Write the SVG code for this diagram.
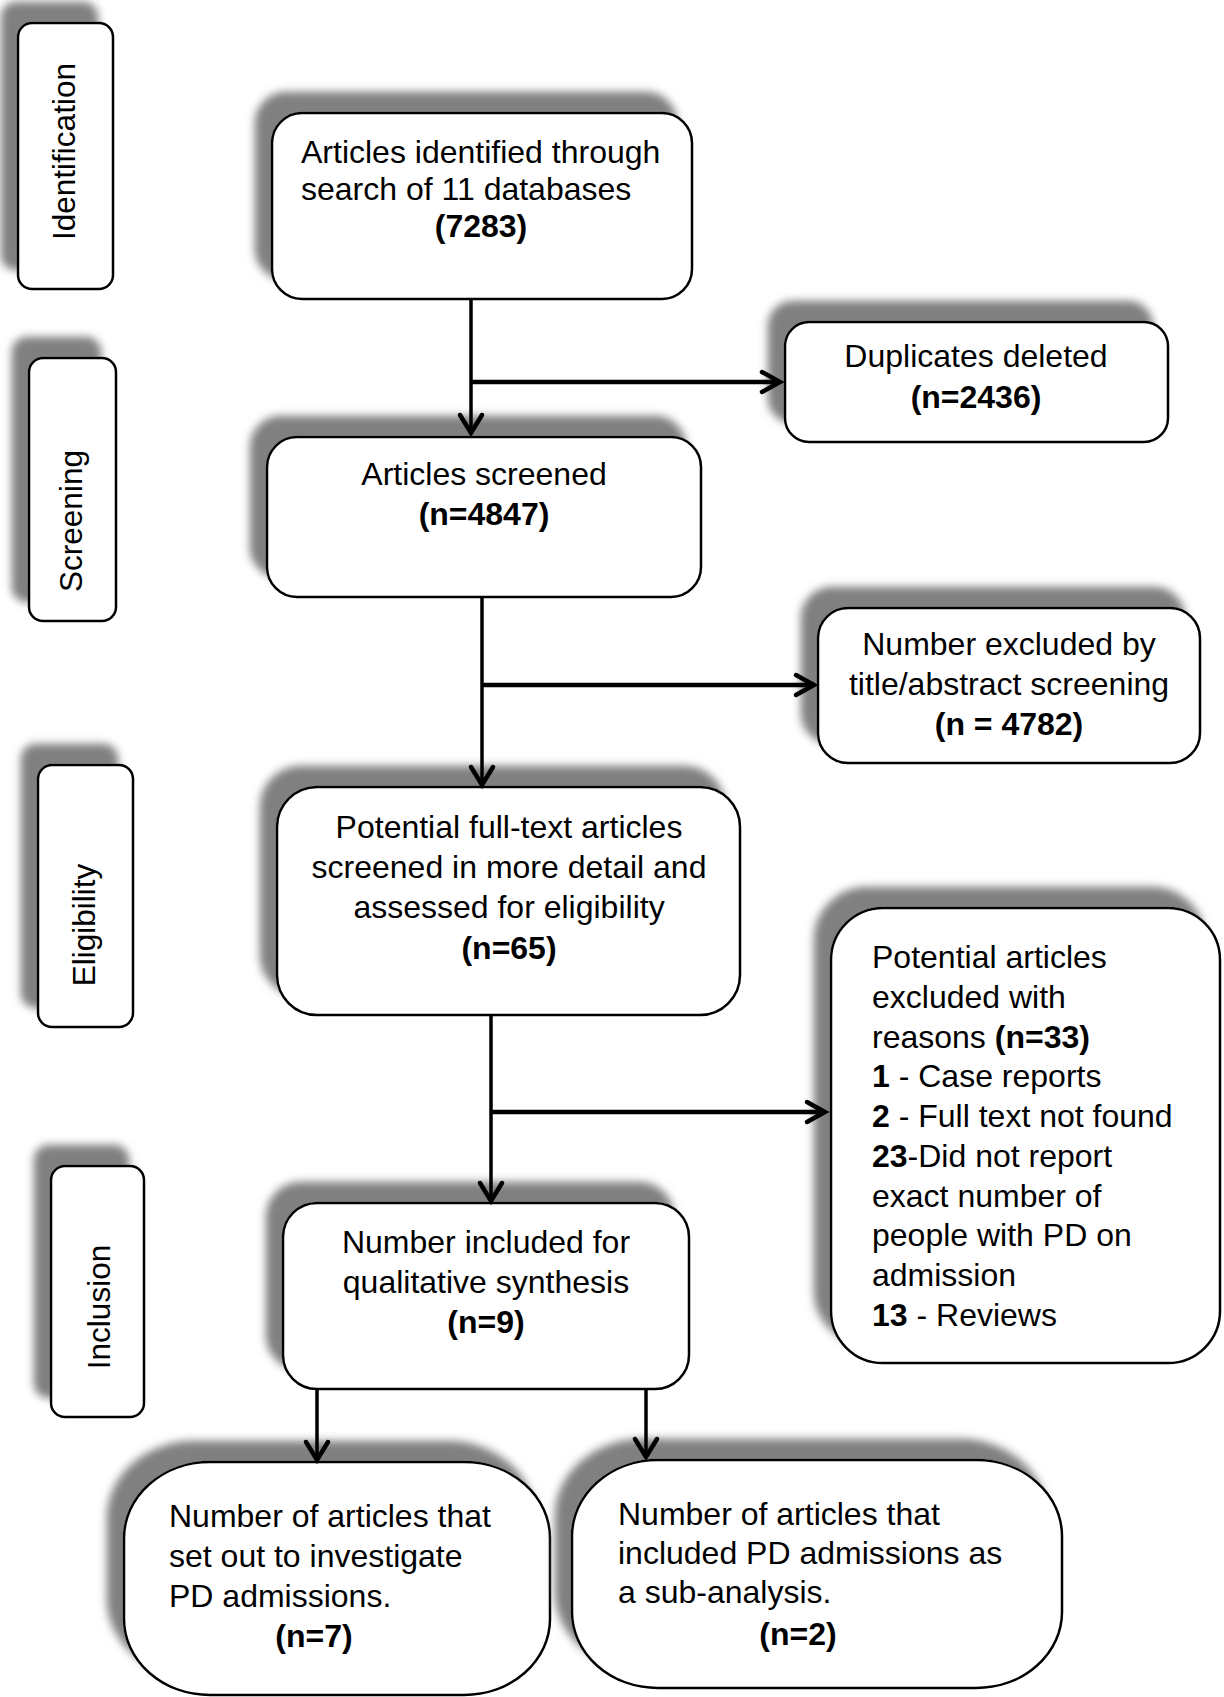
<svg xmlns="http://www.w3.org/2000/svg" width="1224" height="1697" viewBox="0 0 1224 1697">
<defs>
<filter id="sh" x="-50%" y="-50%" width="200%" height="200%">
<feGaussianBlur in="SourceAlpha" stdDeviation="4.5"/>
<feOffset dx="-16" dy="-20" result="b"/>
<feFlood flood-color="#808080"/>
<feComposite in2="b" operator="in" result="s"/>
<feMerge><feMergeNode in="s"/><feMergeNode in="SourceGraphic"/></feMerge>
</filter>
</defs>
<style>
.box{fill:#fff;stroke:#000;stroke-width:2.5;filter:url(#sh)}
.t{font-family:"Liberation Sans",Arial,sans-serif;font-size:32px;fill:#000}
.s{font-family:"Liberation Sans",Arial,sans-serif;font-size:31.5px;fill:#000}
.c{text-anchor:middle}
.b{font-weight:bold}
.v{stroke:#000;stroke-width:3.5;fill:none}
.h{stroke:#000;stroke-width:4.5;fill:none}
.ah{stroke:#000;stroke-width:4.5;fill:none;stroke-linecap:round;stroke-linejoin:miter}
</style>

<g id="stage-identification">
<rect class="box" x="18" y="23" width="95" height="266" rx="14"/>
<text class="s c" transform="translate(75,151.5) rotate(-90)">Identification</text>
</g>
<g id="stage-screening">
<rect class="box" x="29" y="358" width="87" height="263" rx="14"/>
<text class="s c" transform="translate(82,521) rotate(-90)">Screening</text>
</g>
<g id="stage-eligibility">
<rect class="box" x="38" y="765" width="95" height="262" rx="14"/>
<text class="s c" transform="translate(95,925) rotate(-90)">Eligibility</text>
</g>
<g id="stage-inclusion">
<rect class="box" x="51" y="1166" width="93" height="251" rx="14"/>
<text class="s c" transform="translate(110,1307) rotate(-90)">Inclusion</text>
</g>

<g id="identified">
<rect class="box" x="272" y="113" width="420" height="186" rx="30"/>
<text class="t" x="301" y="163">Articles identified through</text>
<text class="t" x="301" y="200">search of 11 databases</text>
<text class="t c b" x="481" y="237">(7283)</text>
</g>
<g id="duplicates">
<rect class="box" x="785" y="322" width="383" height="120" rx="24"/>
<text class="t c" x="976" y="367">Duplicates deleted</text>
<text class="t c b" x="976" y="408">(n=2436)</text>
</g>
<g id="screened">
<rect class="box" x="267" y="437" width="434" height="160" rx="30"/>
<text class="t c" x="484" y="485">Articles screened</text>
<text class="t c b" x="484" y="525">(n=4847)</text>
</g>
<g id="excluded-title">
<rect class="box" x="818" y="608" width="382" height="155" rx="30"/>
<text class="t c" x="1009" y="655">Number excluded by</text>
<text class="t c" x="1009" y="695">title/abstract screening</text>
<text class="t c b" x="1009" y="735">(n = 4782)</text>
</g>
<g id="fulltext">
<rect class="box" x="277" y="787" width="463" height="228" rx="40"/>
<text class="t c" x="509" y="838">Potential full-text articles</text>
<text class="t c" x="509" y="878">screened in more detail and</text>
<text class="t c" x="509" y="918">assessed for eligibility</text>
<text class="t c b" x="509" y="959">(n=65)</text>
</g>
<g id="excluded-reasons">
<rect class="box" x="831" y="908" width="389" height="455" rx="52"/>
<text class="t" x="872" y="968">Potential articles</text>
<text class="t" x="872" y="1008">excluded with</text>
<text class="t" x="872" y="1048">reasons <tspan class="b">(n=33)</tspan></text>
<text class="t" x="872" y="1087"><tspan class="b">1</tspan> - Case reports</text>
<text class="t" x="872" y="1127"><tspan class="b">2</tspan> - Full text not found</text>
<text class="t" x="872" y="1167"><tspan class="b">23</tspan>-Did not report</text>
<text class="t" x="872" y="1207">exact number of</text>
<text class="t" x="872" y="1246">people with PD on</text>
<text class="t" x="872" y="1286">admission</text>
<text class="t" x="872" y="1326"><tspan class="b">13</tspan> - Reviews</text>
</g>
<g id="qualitative">
<rect class="box" x="283" y="1203" width="406" height="186" rx="34"/>
<text class="t c" x="486" y="1253">Number included for</text>
<text class="t c" x="486" y="1293">qualitative synthesis</text>
<text class="t c b" x="486" y="1333">(n=9)</text>
</g>
<g id="setout">
<rect class="box" x="124" y="1462" width="426" height="233" rx="86" ry="76"/>
<text class="t" x="169" y="1527">Number of articles that</text>
<text class="t" x="169" y="1567">set out to investigate</text>
<text class="t" x="169" y="1607">PD admissions.</text>
<text class="t c b" x="314" y="1647">(n=7)</text>
</g>
<g id="subanalysis">
<rect class="box" x="572" y="1460" width="490" height="228" rx="86" ry="76"/>
<text class="t" x="618" y="1525">Number of articles that</text>
<text class="t" x="618" y="1564">included PD admissions as</text>
<text class="t" x="618" y="1603">a sub-analysis.</text>
<text class="t c b" x="798" y="1645">(n=2)</text>
</g>

<g id="connectors">
<line class="v" x1="471" y1="299" x2="471" y2="433"/>
<polyline class="ah" points="460,415 471,433 482,415"/>
<line class="h" x1="471" y1="382" x2="780" y2="382"/>
<polyline class="ah" points="762,372 780,382 762,392"/>

<line class="v" x1="482" y1="597" x2="482" y2="785"/>
<polyline class="ah" points="471,767 482,785 493,767"/>
<line class="h" x1="482" y1="685" x2="814" y2="685"/>
<polyline class="ah" points="796,675 814,685 796,695"/>

<line class="v" x1="491" y1="1015" x2="491" y2="1201"/>
<polyline class="ah" points="480,1183 491,1201 502,1183"/>
<line class="h" x1="491" y1="1112" x2="825" y2="1112"/>
<polyline class="ah" points="807,1102 825,1112 807,1122"/>

<line class="v" x1="317" y1="1389" x2="317" y2="1460"/>
<polyline class="ah" points="306,1442 317,1460 328,1442"/>
<line class="v" x1="646" y1="1389" x2="646" y2="1457"/>
<polyline class="ah" points="635,1439 646,1457 657,1439"/>
</g>
</svg>
